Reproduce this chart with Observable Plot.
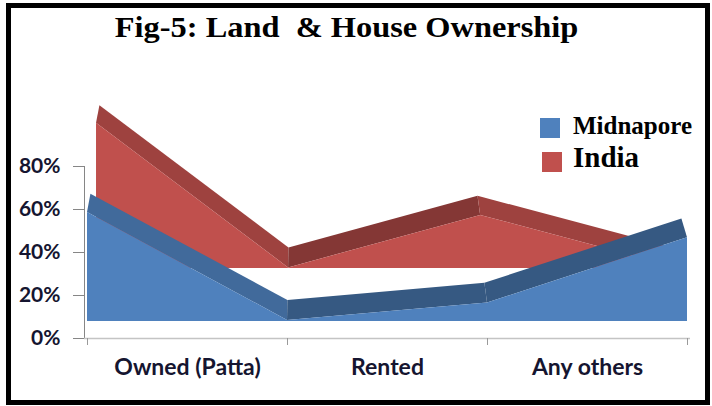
<!DOCTYPE html>
<html>
<head>
<meta charset="utf-8">
<script src="https://cdn.jsdelivr.net/npm/d3@7"></script>
<script src="https://cdn.jsdelivr.net/npm/@observablehq/plot@0.6"></script>
<style>
  html, body { margin: 0; padding: 0; background: #fff; }
  #wrap { position: relative; width: 712px; height: 406px; overflow: hidden; background: #fff; }
  #title { position: absolute; left: 0; top: 12px; width: 694px; text-align: center;
    font-family: "Liberation Serif", "Times New Roman", serif; font-weight: bold; font-size: 30px;
    line-height: 30px; color: #000; white-space: pre; }
  #title span { display: inline-block; transform: scaleX(1.08); transform-origin: center; }
  #chart { position: absolute; left: 0; top: 60px; }
  .lg-sw { position: absolute; width: 20px; height: 20px; }
  .lg-tx { position: absolute; font-family: "Liberation Serif", "Times New Roman", serif; font-weight: bold; color: #000; white-space: nowrap; }
  #border { position: absolute; left: 6px; top: 3px; width: 704px; height: 402px; box-sizing: border-box;
    border: 5px solid #000; pointer-events: none; }
</style>
</head>
<body>
<div id="wrap">
  <div id="title"><span>Fig-5: Land  &amp; House Ownership</span></div>
  <div id="chart"></div>
  <div id="legend"></div>
  <div id="border"></div>
</div>
<script>
// ---- data ----
const categories = ["Owned (Patta)", "Rented", "Any others"];
const seriesNames = ["Midnapore", "India"];
const seriesColors = ["#4F81BD", "#C0504D"];
// values at the four vertices of each 3-D area (category boundaries)
const midnapore = [0.507, 0.005, 0.086, 0.39];
const india = [0.703, 0.003, 0.257, 0.01];
const yTicks = [0, 0.2, 0.4, 0.6, 0.8];
const xTicks = [0, 1, 2, 3];

// ---- 3-D look (styling constants) ----
const PX_Y = 0.8 / 172;        // data units per pixel, y
const lift = [17, 70];         // vertical lift (px) of each series' front face
const bandDepth = 20;          // px depth of the top surface
const persp = 0.00075;         // perspective shrink per px of depth
const cx = 1.135;              // perspective centre (x data units)

function proj(i, v, L) {
  const s = 1 - persp * (L - lift[0]);
  return { x: cx + (i - cx) * s, y: L * PX_Y + v * s };
}

const allSeries = [midnapore, india];
const faceRows = [[], []];
const bandRows = [[], []];
allSeries.forEach((vals, k) => {
  const Lf = lift[k], Lb = lift[k] + bandDepth;
  vals.forEach((v, i) => {
    const top = proj(i, v, Lf), base = proj(i, 0, Lf);
    faceRows[k].push({ x: top.x, y1: base.y, y2: top.y });
  });
  for (let j = 0; j < vals.length - 1; j++) {
    const shade = d3.color(seriesColors[k]).darker(vals[j + 1] > vals[j] ? 1.05 : 0.55).formatHex();
    for (const i of [j, j + 1]) {
      const f = proj(i, vals[i], Lf), b = proj(i, vals[i], Lb);
      bandRows[k].push({ seg: k + "-" + j, x1: f.x, y1: f.y, x2: b.x, y2: b.y, fill: shade });
    }
  }
});

const labelFont = "Lato, 'Open Sans', sans-serif";
const textColor = "#151530";

const marks = [];
// back series first (India), then front (Midnapore)
for (const k of [1, 0]) {
  marks.push(Plot.area(bandRows[k], { x1: "x1", y1: "y1", x2: "x2", y2: "y2", z: "seg", fill: "fill" }));
  marks.push(Plot.areaY(faceRows[k], { x: "x", y1: "y1", y2: "y2", fill: seriesColors[k] }));
}
marks.push(
  Plot.ruleX([0], { y1: 0, y2: 0.8, dx: -3, stroke: "#868686" }),
  Plot.ruleY([0], { x1: 0, x2: 3, stroke: "#c4c4c4", strokeWidth: 1.5, insetLeft: -3, insetRight: -3 }),
  Plot.axisY(yTicks, {
    tickSize: 11, tickPadding: 13, dx: -3, tickFormat: d3.format(".0%"), label: null,
    stroke: "#868686", fill: textColor, fontSize: 21, fontWeight: "bold", fontFamily: labelFont
  }),
  Plot.axisX(xTicks, { tickSize: 7, tickFormat: () => "", label: null, stroke: "#9a9a9a" }),
  Plot.text(categories, {
    x: (d, i) => i + 0.5, y: 0, dy: 29, text: d => d,
    fontSize: 23, fontWeight: "bold", fontFamily: labelFont, fill: textColor
  })
);

const chart = Plot.plot({
  width: 712, height: 346,
  marginLeft: 87, marginRight: 25, marginTop: 106, marginBottom: 68,
  x: { domain: [0, 3], axis: null },
  y: { domain: [0, 0.8], axis: null },
  color: { type: "identity" },
  style: { background: "transparent", overflow: "visible" },
  marks
});
document.getElementById("chart").appendChild(chart);

// legend
const legend = document.getElementById("legend");
const legendLayout = [
  { sw: [540, 118], tx: [573, 135], size: 25 },
  { sw: [542, 152], tx: [573, 168], size: 29 }
];
seriesNames.forEach((name, k) => {
  const L = legendLayout[k];
  const sw = document.createElement("div");
  sw.className = "lg-sw";
  sw.style.left = L.sw[0] + "px"; sw.style.top = L.sw[1] + "px";
  sw.style.background = seriesColors[k];
  legend.appendChild(sw);
  const tx = document.createElement("div");
  tx.className = "lg-tx";
  tx.textContent = name;
  tx.style.fontSize = L.size + "px";
  tx.style.lineHeight = L.size + "px";
  tx.style.left = L.tx[0] + "px";
  tx.style.top = (L.tx[1] - Math.round(L.size * 0.86)) + "px";
  legend.appendChild(tx);
});
</script>
</body>
</html>
